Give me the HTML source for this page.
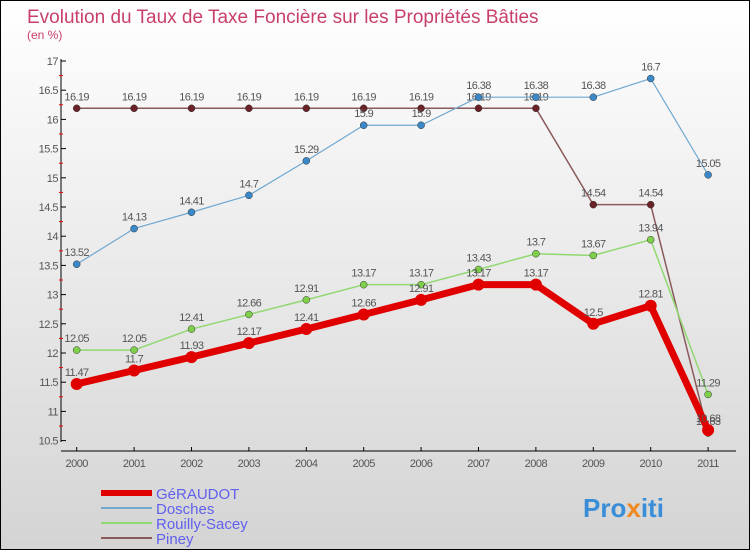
<!DOCTYPE html>
<html><head><meta charset="utf-8"><style>
body{margin:0}
#c{width:748px;height:548px;border:1px solid #000;background:linear-gradient(#ffffff,#d4d4d4);position:relative;font-family:"Liberation Sans",sans-serif}
</style></head><body>
<div id="c">
<svg id="s" width="748" height="548">
<text x="26" y="22" font-size="19" fill="#c8406a">Evolution du Taux de Taxe Foncière sur les Propriétés Bâties</text>
<text x="26" y="38" font-size="12" fill="#c8406a">(en %)</text>
<g id="g"></g>
<text x="582" y="516" font-size="26" font-weight="bold" fill="#3a8ed8">Pro<tspan fill="#f08a20">x</tspan>iti</text>
</svg></div>
<script>
const years=["2000","2001","2002","2003","2004","2005","2006","2007","2008","2009","2010","2011"];
const yTicks=[10.5,11,11.5,12,12.5,13,13.5,14,14.5,15,15.5,16,16.5,17];
const geraudot=[11.47,11.7,11.93,12.17,12.41,12.66,12.91,13.17,13.17,12.5,12.81,10.68];
const dosches=[13.52,14.13,14.41,14.7,15.29,15.9,15.9,16.38,16.38,16.38,16.7,15.05];
const rouilly=[12.05,12.05,12.41,12.66,12.91,13.17,13.17,13.43,13.7,13.67,13.94,11.29];
const piney=[16.19,16.19,16.19,16.19,16.19,16.19,16.19,16.19,16.19,14.54,14.54,10.63];
const ns="http://www.w3.org/2000/svg",g=document.getElementById('g');
const X=i=>75.7+i*57.4, Y=v=>60+(17-v)*58.4;
function mk(t,a,p){const e=document.createElementNS(ns,t);for(const k in a)e.setAttribute(k,a[k]);(p||g).appendChild(e);return e;}
let ax=mk('line',{x1:60,y1:58,x2:60,y2:441,stroke:'#000'});

let bx=mk('line',{x1:60,y1:450,x2:735,y2:450,stroke:'#000'});

yTicks.forEach(v=>{mk('line',{x1:60,y1:Y(v),x2:65,y2:Y(v),stroke:'#000'});
 if(v<17)mk('line',{x1:58,y1:Y(v+0.25),x2:62,y2:Y(v+0.25),stroke:'#e00'});
 const t=mk('text',{x:57,y:Y(v)+4,'font-size':11,fill:'#555','text-anchor':'end','letter-spacing':'-0.5'});t.textContent=String(v);
 });
years.forEach((y,i)=>{mk('line',{x1:X(i),y1:446,x2:X(i),y2:450,stroke:'#000'});
 const t=mk('text',{x:X(i),y:466,'font-size':11,fill:'#555','text-anchor':'middle','letter-spacing':'-0.5'});t.textContent=y;
 });
const series=[[piney,'#6b2226','#8a5a5a',1.5,3.5,'piney'],[rouilly,'#7ed04a','#90d870',1.5,3.5,'rouilly-sacey'],[dosches,'#3a88c8','#70a8d0',1.2,3.5,'dosches'],[geraudot,'#e00000','#e00000',7,6,'geraudot']];
series.forEach(([d,c,lc,w,r,n])=>{
 const p=mk('polyline',{points:d.map((v,i)=>X(i)+','+Y(v)).join(' '),fill:'none',stroke:lc,'stroke-width':w,'stroke-linejoin':'round'});
 
 d.forEach((v,i)=>{const m=mk('circle',{cx:X(i),cy:Y(v),r:r,fill:c,stroke:n=='geraudot'?'none':'#333','stroke-width':0.5});
  
  const t=mk('text',{x:X(i),y:Y(v)-8,'font-size':11,fill:'#555','text-anchor':'middle','letter-spacing':'-0.6'});t.textContent=String(v);
  });
});
const leg=[['GéRAUDOT','#e00000',6],['Dosches','#70a8d0',2],['Rouilly-Sacey','#90d870',2],['Piney','#8a5a5a',2]];
leg.forEach(([n,c,w],i)=>{const y=492+i*15;
 const l=mk('line',{x1:100,y1:y,x2:151,y2:y,stroke:c,'stroke-width':w});
 
 const t=mk('text',{x:155,y:y+6,'font-size':15,fill:'#6060ee'});t.textContent=n;
 });
</script></body></html>
